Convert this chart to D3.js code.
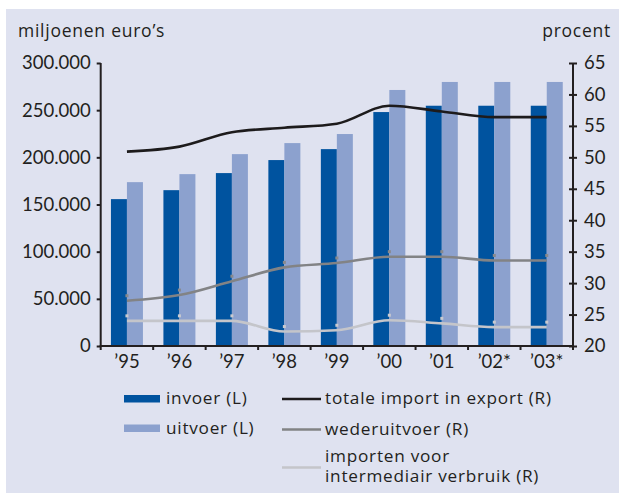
<!DOCTYPE html>
<html>
<head>
<meta charset="utf-8">
<script src="https://cdn.jsdelivr.net/npm/d3@7"></script>
<style>
  body { margin: 0; background: #fff; }
  text { font-family: Lato, "Noto Sans", sans-serif; fill: #231f20; }
  .wide { font-family: "Open Sans", "Noto Sans", sans-serif; letter-spacing: 0.75px; }
</style>
</head>
<body>
<svg width="619" height="494"></svg>
<script>
(function (d3) {
	'use strict';

	// data
	const years = ['’95', '’96', '’97', '’98', '’99', '’00', '’01', '’02*', '’03*'];
	const invoer = [155700, 165200, 183300, 197100, 208700, 248000, 254700, 254700, 254700];
	const uitvoer = [173700, 182200, 203400, 215100, 224700, 271400, 279900, 279900, 279900];
	const totaal = [50.9, 51.7, 54.0, 54.7, 55.35, 58.2, 57.3, 56.4, 56.4];
	const wederuitvoer = [27.2, 28.1, 30.3, 32.5, 33.2, 34.2, 34.2, 33.6, 33.6];
	const intermediair = [24.0, 24.0, 24.0, 22.3, 22.5, 24.1, 23.6, 23.0, 23.0];
	const leftTicks = [0, 50000, 100000, 150000, 200000, 250000, 300000];
	const rightTicks = [20, 25, 30, 35, 40, 45, 50, 55, 60, 65];

	const svg = d3.select('svg');
	const width = +svg.attr('width');
	const height = +svg.attr('height');

	const ink = '#231f20';
	const colInvoer = '#00539f';
	const colUitvoer = '#8ca1ce';

	// panel
	svg.append('rect')
		.attr('x', 6).attr('y', 9)
		.attr('width', width - 6).attr('height', height - 10)
		.attr('fill', '#dfe2f0');

	const x = d3.scaleBand().domain(years).range([100.7, 573]);
	const x1 = d3.scaleBand().domain(['invoer', 'uitvoer'])
		.range([0, x.bandwidth()]).paddingOuter(0.64);
	const yL = d3.scaleLinear().domain([0, 300000]).range([346, 63]);
	const yR = d3.scaleLinear().domain([20, 65]).range([346, 63]);

	const nl = d3.formatLocale({ decimal: ',', thousands: '.', grouping: [3], currency: ['€', ''] });
	const fmt = nl.format(',d');

	// bars
	const bars = svg.append('g');
	const series = [
		{ key: 'invoer', values: invoer, color: colInvoer },
		{ key: 'uitvoer', values: uitvoer, color: colUitvoer }
	];
	series.forEach(s => {
		bars.selectAll(null)
			.data(s.values)
			.enter().append('rect')
				.attr('x', (d, i) => x(years[i]) + x1(s.key))
				.attr('width', x1.bandwidth())
				.attr('y', d => yL(d))
				.attr('height', d => yL(0) - yL(d))
				.attr('fill', s.color);
	});

	// lines
	const line = d3.line()
		.x((d, i) => x(years[i]) + x.bandwidth() / 2)
		.y(d => yR(d))
		.curve(d3.curveMonotoneX);

	const lineSeries = [
		{ values: intermediair, color: '#c4c5ca', marker: '#c9cacf' },
		{ values: wederuitvoer, color: '#828385', marker: '#88898c' },
		{ values: totaal, color: '#1d1b1c', marker: null }
	];
	lineSeries.forEach(s => {
		svg.append('path')
			.attr('d', line(s.values))
			.attr('fill', 'none')
			.attr('stroke', s.color)
			.attr('stroke-width', 2.6);
		if (s.marker) {
			svg.append('g').selectAll('rect')
				.data(s.values)
				.enter().append('rect')
					.attr('x', (d, i) => x(years[i]) + x.bandwidth() / 2 - 1.5)
					.attr('y', d => yR(d) - 6.5)
					.attr('width', 3).attr('height', 3)
					.attr('fill', s.marker);
		}
	});

	// left axis
	const axL = svg.append('g')
		.attr('transform', 'translate(100.7,0)')
		.call(d3.axisLeft(yL).tickValues(leftTicks).tickFormat(fmt).tickSizeOuter(0).tickSize(4).tickPadding(6));

	// right axis, ticks crossing the line
	const axR = svg.append('g')
		.attr('transform', 'translate(573,0)')
		.call(d3.axisRight(yR).tickValues(rightTicks).tickSizeOuter(0).tickSize(4).tickPadding(7));
	axR.selectAll('.tick line').attr('x1', -4);

	// bottom axis with ticks between categories
	const axB = svg.append('g')
		.attr('transform', `translate(0,${yL(0)})`);
	axB.append('line')
		.attr('x1', x.range()[0] - 1).attr('x2', x.range()[1] + 1)
		.attr('stroke', ink).attr('stroke-width', 2);
	axB.selectAll('.sep')
		.data(years.map(d => x(d)).concat([x.range()[1]]))
		.enter().append('line')
			.attr('x1', d => d).attr('x2', d => d)
			.attr('y1', 0).attr('y2', 4)
			.attr('stroke', ink).attr('stroke-width', 2);
	axB.selectAll('.lbl')
		.data(years)
		.enter().append('text')
			.attr('x', d => x(d) + x.bandwidth() / 2)
			.attr('y', 22)
			.attr('text-anchor', 'middle')
			.attr('font-size', 18.5)
			.text(d => d);

	[axL, axR].forEach(ax => {
		ax.select('.domain').attr('stroke', ink).attr('stroke-width', 2);
		ax.selectAll('.tick line').attr('stroke', ink).attr('stroke-width', 2);
		ax.selectAll('.tick text').attr('font-size', 18.5).attr('font-family', 'Lato, sans-serif').attr('fill', ink);
	});
	axL.select('.domain').attr('d', `M0,${yL(0)}V${yL(300000)}`);
	axR.select('.domain').attr('d', `M0,${yR(20) + 4}V${yR(65)}`);

	// axis titles
	svg.append('text').attr('class', 'wide').attr('x', 18).attr('y', 37).attr('font-size', 17.5).text('miljoenen euro’s');
	svg.append('text').attr('class', 'wide').attr('x', 611).attr('y', 37).attr('text-anchor', 'end').attr('font-size', 17.5).text('procent');

	// legend
	const legend = svg.append('g').attr('class', 'wide').attr('font-size', 17.2);
	const boxes = [
		{ label: 'invoer (L)', color: colInvoer },
		{ label: 'uitvoer (L)', color: colUitvoer }
	];
	boxes.forEach((b, i) => {
		legend.append('rect')
			.attr('x', 124).attr('y', 395 + i * 29.5)
			.attr('width', 36).attr('height', 7.5)
			.attr('fill', b.color);
		legend.append('text')
			.attr('class', 'wide')
			.attr('x', 166).attr('y', 404 + i * 29.5)
			.text(b.label);
	});
	const lineItems = [
		{ label: ['totale import in export (R)'], color: '#1d1b1c', y: 399 },
		{ label: ['wederuitvoer (R)'], color: '#828385', y: 429.5 },
		{ label: ['importen voor', 'intermediair verbruik (R)'], color: '#c4c5ca', y: 467.5 }
	];
	lineItems.forEach(l => {
		legend.append('line')
			.attr('x1', 282).attr('x2', 321)
			.attr('y1', l.y).attr('y2', l.y)
			.attr('stroke', l.color).attr('stroke-width', 2.6);
		const t = legend.append('text').attr('class', 'wide').attr('x', 325)
			.attr('y', l.label.length > 1 ? l.y - 5.5 : l.y + 5);
		l.label.forEach((s, j) => {
			t.append('tspan').attr('x', 325).attr('dy', j ? 20 : 0).text(s);
		});
	});

}(d3));
</script>
</body>
</html>
